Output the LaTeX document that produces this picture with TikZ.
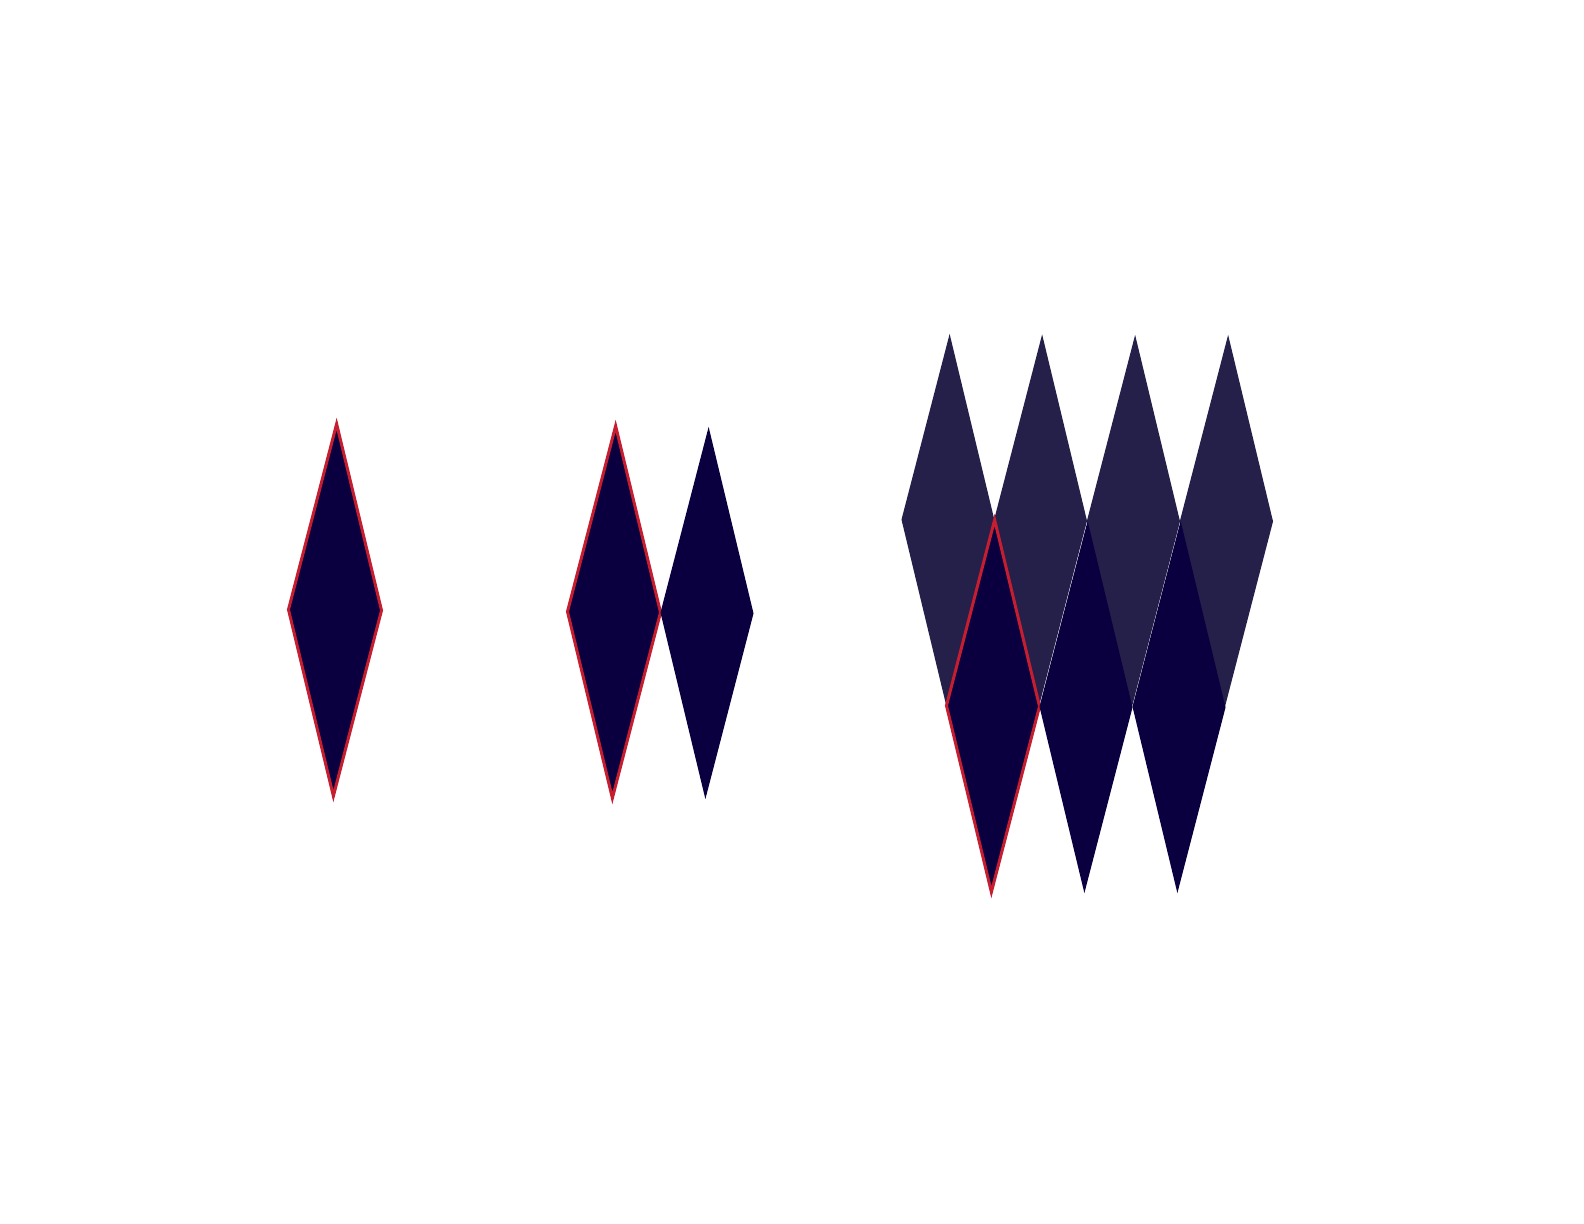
\documentclass[tikz,border=0pt]{standalone}
\usepackage{tikz}
\usetikzlibrary{shapes.geometric}
\definecolor{navy}{RGB}{11,0,63}
\definecolor{navylight}{RGB}{37,32,74}
\definecolor{markred}{RGB}{196,30,48}
\tikzstyle{rhomb}=[diamond, inner sep=0pt, outer sep=0pt, minimum width=0.93cm, minimum height=3.72cm, rotate=-0.5]
\tikzstyle{rhomb_dark}=[rhomb, fill=navy]
\tikzstyle{rhomb_light}=[rhomb, fill=navylight]
\tikzstyle{rhomb_marked}=[rhomb_dark, draw=markred, line width=0.85pt]
\begin{document}
\begin{tikzpicture}[x=0.01cm, y=-0.01cm]
\useasboundingbox (0,0) rectangle (1584,1224);
% one
\node[rhomb_marked] (one0) at (335,610){};
% two
\node[rhomb_marked] (two0) at (614,612){};
\node[rhomb_dark] (two1) at (707,613){};
% grid
\node[rhomb_light] (top0) at (948,520){};
\node[rhomb_light] (top1) at (1040.5,520.5){};
\node[rhomb_light] (top2) at (1133.5,521){};
\node[rhomb_light] (top3) at (1226.5,521){};
\node[rhomb_marked] (bot0) at (993,706){};
\node[rhomb_dark] (bot1) at (1086,707){};
\node[rhomb_dark] (bot2) at (1179,707){};
\end{tikzpicture}
\end{document}
